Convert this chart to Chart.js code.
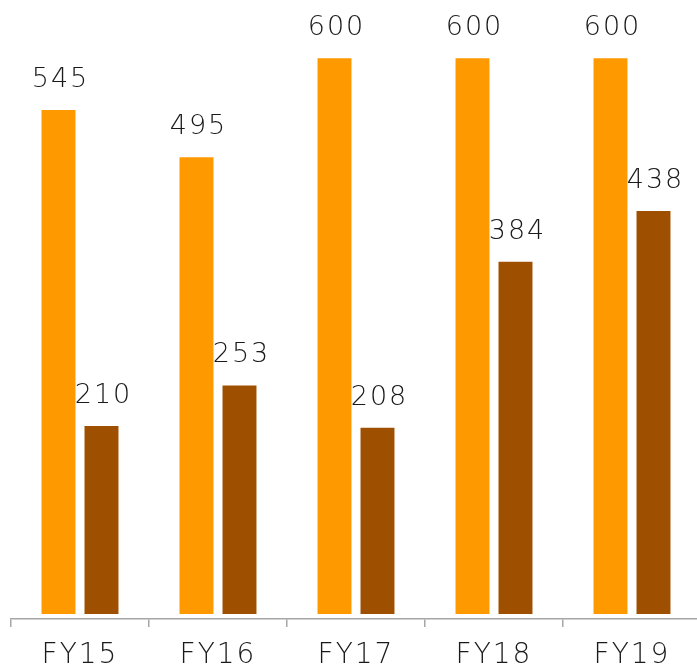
<!DOCTYPE html>
<html>
<head>
<meta charset="utf-8">
<script src="https://cdn.jsdelivr.net/npm/chart.js@4"></script>
<style>
    html, body { margin: 0; padding: 0; background: #fff; overflow: hidden; }
    #wrap { width: 712px; height: 667px; }
</style>
</head>
<body>
<div id="wrap"><canvas id="chart" width="712" height="667"></canvas></div>
<script>
const categories = ["FY15", "FY16", "FY17", "FY18", "FY19"];
const seriesA = [545, 495, 600, 600, 600];
const seriesB = [210, 253, 208, 384, 438];

const colorA = "#FF9900";
const colorB = "#9E5000";
const axisColor = "#A6A6A6";
const fontFamily = "'DejaVu Sans', sans-serif";

//draws the value above every bar (no datalabels plugin offline)
const valueLabels = {
    id: "valueLabels",
    beforeDraw(chart) {
        chart.ctx.letterSpacing = "2px"; //wider text like the original
    },
    afterDatasetsDraw(chart) {
        const ctx = chart.ctx;
        ctx.save();
        ctx.font = "200 27px " + fontFamily;
        ctx.letterSpacing = "2px";
        ctx.fillStyle = "#1a1a1a";
        ctx.textAlign = "center";
        ctx.textBaseline = "alphabetic";
        chart.data.datasets.forEach((ds, i) => {
            const meta = chart.getDatasetMeta(i);
            meta.data.forEach((bar, j) => {
                ctx.fillText(String(ds.data[j]), bar.x + 2, bar.y - 23);
            });
        });
        ctx.restore();
    }
};

const ctx = document.getElementById("chart").getContext("2d");
new Chart(ctx, {
    type: "bar",
    data: {
        labels: categories,
        datasets: [
            {
                data: seriesA,
                backgroundColor: colorA,
                base: 10.6,
                categoryPercentage: 0.623,
                barPercentage: 0.79,
            },
            {
                data: seriesB,
                backgroundColor: colorB,
                base: 10.6,
                categoryPercentage: 0.623,
                barPercentage: 0.79,
            },
        ],
    },
    options: {
        responsive: false,
        animation: false,
        layout: {
            padding: { left: 11, right: 11, top: 11, bottom: 0 },
        },
        plugins: {
            legend: { display: false },
            tooltip: { enabled: false },
        },
        scales: {
            x: {
                offset: true,
                grid: {
                    offset: true,
                    drawOnChartArea: false,
                    drawTicks: true,
                    tickLength: 8,
                    color: axisColor,
                    lineWidth: 1.5,
                },
                border: { display: true, color: axisColor, width: 1.5 },
                ticks: {
                    color: "#1a1a1a",
                    font: { family: fontFamily, size: 28, weight: 200 },
                    padding: 12,
                    maxRotation: 0,
                },
                afterFit(scale) {
                    scale.height = 48;
                },
            },
            y: {
                display: false,
                min: 5.3,
                max: 650,
            },
        },
        events: [],
    },
    plugins: [valueLabels],
});
</script>
</body>
</html>
